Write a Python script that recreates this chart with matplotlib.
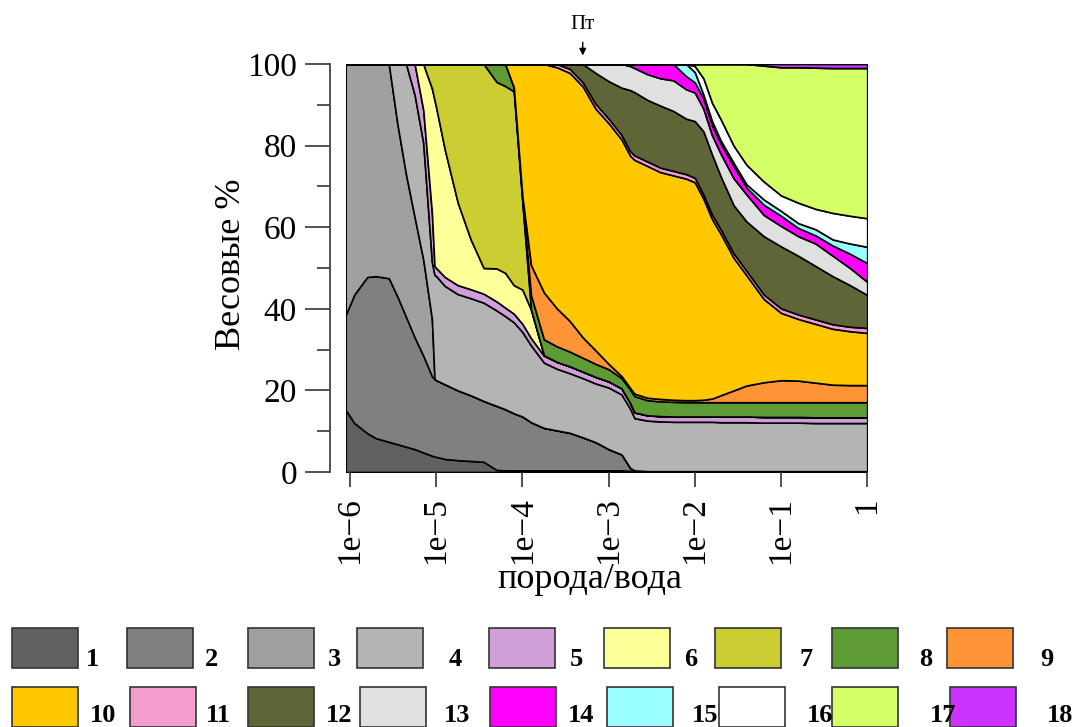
import numpy as np
import matplotlib
matplotlib.use('Agg')
import matplotlib.pyplot as plt
from matplotlib.patches import Rectangle
from matplotlib.ticker import NullLocator, FixedLocator

plt.rcParams['font.family'] = ['Liberation Serif', 'DejaVu Serif']

# x: log10(порода/вода)
log_ratio = [-6.05, -5.95, -5.8, -5.7, -5.55, -5.45, -5.35, -5.25, -5.15, -5.05, -5.02, -5.0,
             -4.9, -4.75, -4.6, -4.45, -4.3, -4.2, -4.1, -4.0, -3.9, -3.75, -3.6, -3.45,
             -3.3, -3.15, -3.0, -2.85, -2.75, -2.7, -2.55, -2.4, -2.25, -2.1, -2.0, -1.9,
             -1.8, -1.7, -1.55, -1.4, -1.2, -1.0, -0.8, -0.6, -0.4, -0.2, 0.0]

m1 = [15.2, 12.0, 9.5, 8.3, 7.4, 6.8, 6.2, 5.6, 4.8, 4.0, 3.8, 3.7, 3.2, 2.9, 2.7, 2.5,
      0.5, 0.4, 0.4, 0.4, 0.4, 0.4, 0.4, 0.4, 0.4, 0.4, 0.4, 0.4, 0.3] + [0.2] * 18
m2 = [23.3, 31.5, 38.3, 39.7, 40.1, 36.2, 31.8, 27.4, 23.7, 19.5, 19.0, 18.8, 18.3, 17.1, 16.1, 14.9,
      15.7, 15.0, 14.0, 13.2, 11.8, 10.4, 9.8, 9.2, 8.1, 6.9, 5.2, 3.9, 0.7, 0.2] + [0.0] * 17
m3 = [61.5, 56.5, 52.2, 52.0, 52.5, 42.3, 34.9, 29.4, 23.5, 14.0] + [0.0] * 37
m4 = [0.0] * 5 + [14.7, 27.1, 30.0, 28.6, 14.0, 25.5, 25.5, 24.1, 23.6, 23.8, 24.1, 23.4, 22.8, 22.3,
                  20.7, 18.8, 16.0, 15.1, 14.6, 14.5, 14.4, 15.1, 14.7, 14.5, 12.8, 12.4, 12.2, 12.1,
                  12.1, 12.1, 12.1, 12.1, 12.0, 12.0, 12.0, 11.9, 11.9, 11.9, 11.8, 11.8, 11.8, 11.8]
m5 = [0.0] * 7 + [7.6, 8.1, 12.0, 2.2, 2.0, 2.2, 2.2, 2.2, 2.2, 2.2, 2.1, 2.1, 2.0, 1.8, 1.7, 1.7,
                  1.7, 1.6, 1.6, 1.5, 1.5, 1.4, 1.4, 1.3, 1.3, 1.3, 1.3, 1.3, 1.3, 1.3, 1.4, 1.4,
                  1.4, 1.4, 1.4, 1.4, 1.4, 1.4, 1.4, 1.4]
m6 = [0.0] * 8 + [11.3, 30.5, 40.7, 39.3, 31.2, 20.2, 12.2, 6.3, 8.1, 8.5, 7.0, 8.4, 7.0, 0.1] + [0.0] * 25
m7 = [0.0] * 9 + [6.0, 8.8, 10.7, 21.0, 34.0, 43.0, 50.0, 45.7, 45.8, 47.5, 21.3] + [0.0] * 27
m8 = [0.0] * 16 + [4.4, 5.4, 1.0, 1.0, 3.5, 3.9, 3.8, 3.6, 3.4, 3.2, 3.0, 2.5, 3.3, 4.0, 3.7, 3.6,
                   3.6, 3.5, 3.5, 3.5, 3.5, 3.5, 3.5, 3.5, 3.6, 3.6, 3.6, 3.7, 3.7, 3.7, 3.7]
m9 = [0.0] * 19 + [0.5, 7.4, 11.5, 9.3, 7.5, 5.0, 3.3, 1.3, 0.5, 0.4, 0.6, 0.6, 0.6, 0.5, 0.5,
                   0.5, 0.6, 0.9, 1.7, 2.9, 4.1, 4.9, 5.4, 5.3, 4.8, 4.3, 4.2, 4.2]
m10 = [0.0] * 18 + [5.7, 32.5, 49.3, 56.0, 59.1, 60.8, 61.5, 59.2, 59.0, 58.0, 56.9, 57.3, 56.8,
                    55.6, 55.0, 54.3, 53.4, 49.3, 44.0, 39.6, 32.5, 27.0, 20.4, 16.5, 15.1, 14.4,
                    13.7, 13.2, 12.8]
m11 = [0.0] * 22 + [0.8, 1.0, 1.0, 1.2, 1.1, 1.1, 1.1, 1.1, 1.1, 1.1, 1.1, 1.1, 1.1, 1.0, 1.1,
                    1.1, 1.1, 1.1, 1.1, 1.1, 1.1, 1.1, 1.1, 1.1, 1.2]
m12 = [0.0] * 23 + [1.2, 4.5, 7.6, 9.2, 11.6, 15.0, 15.5, 15.1, 15.2, 14.7, 13.6, 13.9, 15.5, 14.7,
                    13.0, 11.8, 12.1, 14.3, 15.2, 14.4, 13.1, 11.8, 10.2, 8.1]
m13 = [0.0] * 25 + [2.2, 4.2, 5.8, 5.9, 5.9, 6.3, 6.7, 7.5, 7.2, 7.0, 5.5, 4.7, 5.5, 6.6, 6.6, 5.2,
                    5.0, 4.8, 5.5, 5.0, 4.2, 3.2]
m14 = [0.0] * 28 + [0.5, 1.0, 2.5, 3.5, 4.0, 3.2, 2.5, 2.5, 2.5, 2.5, 3.0, 1.7, 2.5, 2.5, 2.0, 2.0,
                    2.5, 3.5, 4.6]
m15 = [0.0] * 33 + [3.0, 2.5, 1.0, 1.0, 0.8, 0.8, 0.8, 1.3, 1.2, 1.2, 1.5, 1.5, 2.5, 4.0]
m16 = [0.0] * 34 + [1.5, 4.0, 4.5, 5.2, 4.2, 4.8, 4.4, 3.8, 5.0, 5.0, 6.5, 6.8, 7.0]
m17 = [0.0] * 34 + [0.5, 3.5, 9.5, 13.5, 20.0, 24.7, 28.4, 31.4, 33.2, 34.6, 35.5, 36.2, 36.8]
m18 = [0.0] * 40 + [0.4, 0.8, 0.8, 0.9, 1.0, 1.0, 1.0]

series = [m1, m2, m3, m4, m5, m6, m7, m8, m9, m10, m11, m12, m13, m14, m15, m16, m17, m18]
labels = [str(i) for i in range(1, 19)]
colors = ['#606060', '#808080', '#a0a0a0', '#b4b4b4', '#d09ed8', '#ffff99', '#cccc33', '#5f9b34',
          '#ff9436', '#ffc800', '#f59ccf', '#5e6638', '#e0e0e0', '#ff00ff', '#99ffff', '#ffffff',
          '#d4ff66', '#cc33ff']

xtick_exp = [-6, -5, -4, -3, -2, -1, 0]
xtick_labels = ['1e\u22126', '1e\u22125', '1e\u22124', '1e\u22123', '1e\u22122', '1e\u22121', '1']
ytick_major = [0, 20, 40, 60, 80, 100]
ytick_minor = [10, 30, 50, 70, 90]
pt_exp = -3.3

W, H = 1075, 727
fig = plt.figure(figsize=(W / 100, H / 100), dpi=100)
x0, x1, ytop, ybot = 345.7, 867.2, 64, 472
ax = fig.add_axes([x0 / W, 1 - ybot / H, (x1 - x0) / W, (ybot - ytop) / H])

ratio = 10.0 ** np.array(log_ratio)
ax.stackplot(ratio, *series, colors=colors, edgecolor='black', linewidth=1.2)

ax.set_xscale('log')
ax.set_xlim(10 ** log_ratio[0], 10 ** log_ratio[-1])
ax.set_ylim(0, 100)

for s in ['top', 'right', 'bottom']:
    ax.spines[s].set_visible(False)
ax.spines['left'].set_position(('outward', 11))
ax.spines['left'].set_color('#444444')
ax.spines['left'].set_linewidth(1.3)

ax.xaxis.set_major_locator(FixedLocator([10.0 ** e for e in xtick_exp]))
ax.xaxis.set_minor_locator(NullLocator())
ax.set_xticklabels(xtick_labels, rotation=90)
ax.set_yticks(ytick_major)
ax.set_yticks(ytick_minor, minor=True)
ax.set_yticklabels([str(v) for v in ytick_major])

ax.tick_params(axis='y', which='major', length=18, width=1.2, color='#333333', pad=6, labelsize=24)
ax.tick_params(axis='y', which='minor', length=9.5, width=1.2, color='#333333')
ax.tick_params(axis='x', which='major', length=11, width=1.2, color='#333333', pad=7,
               labelsize=24, labelrotation=90)

fig.text(590 / W, 1 - 580 / H, 'порода/вода', fontsize=26, ha='center', va='center')
fig.text(232 / W, 1 - 264 / H, 'Весовые %', fontsize=26, ha='center', va='center', rotation=90)

ax.annotate('', xy=(10 ** pt_exp, 101.4), xytext=(10 ** pt_exp, 106.0),
            arrowprops=dict(arrowstyle='-|>', color='black', lw=1.0, mutation_scale=10),
            annotation_clip=False)
ax.text(10 ** pt_exp, 109.6, 'Пт', fontsize=15, ha='center', va='center', clip_on=False)

# legend
row1 = [12, 127, 248, 357, 489, 604, 715, 832, 947]
row2 = [12, 130, 248, 360, 490, 607, 719, 832, 950]
lab1 = [93, 212, 334, 455, 576, 691, 806, 926, 1047]
lab2 = [103, 218, 339, 457, 581, 705, 820, 943, 1060]
bw, bh = 66, 40
for r, (xs, ls, ytopb, ylab) in enumerate([(row1, lab1, 628, 659), (row2, lab2, 687, 716)]):
    for j in range(9):
        k = r * 9 + j
        fig.add_artist(Rectangle((xs[j] / W, 1 - (ytopb + bh) / H), bw / W, bh / H,
                                 transform=fig.transFigure, facecolor=colors[k],
                                 edgecolor='#333333', linewidth=1.2))
        fig.text(ls[j] / W, 1 - ylab / H, labels[k], fontsize=19, fontweight='bold',
                 ha='center', va='center')

fig.savefig('out.png', dpi=100)
